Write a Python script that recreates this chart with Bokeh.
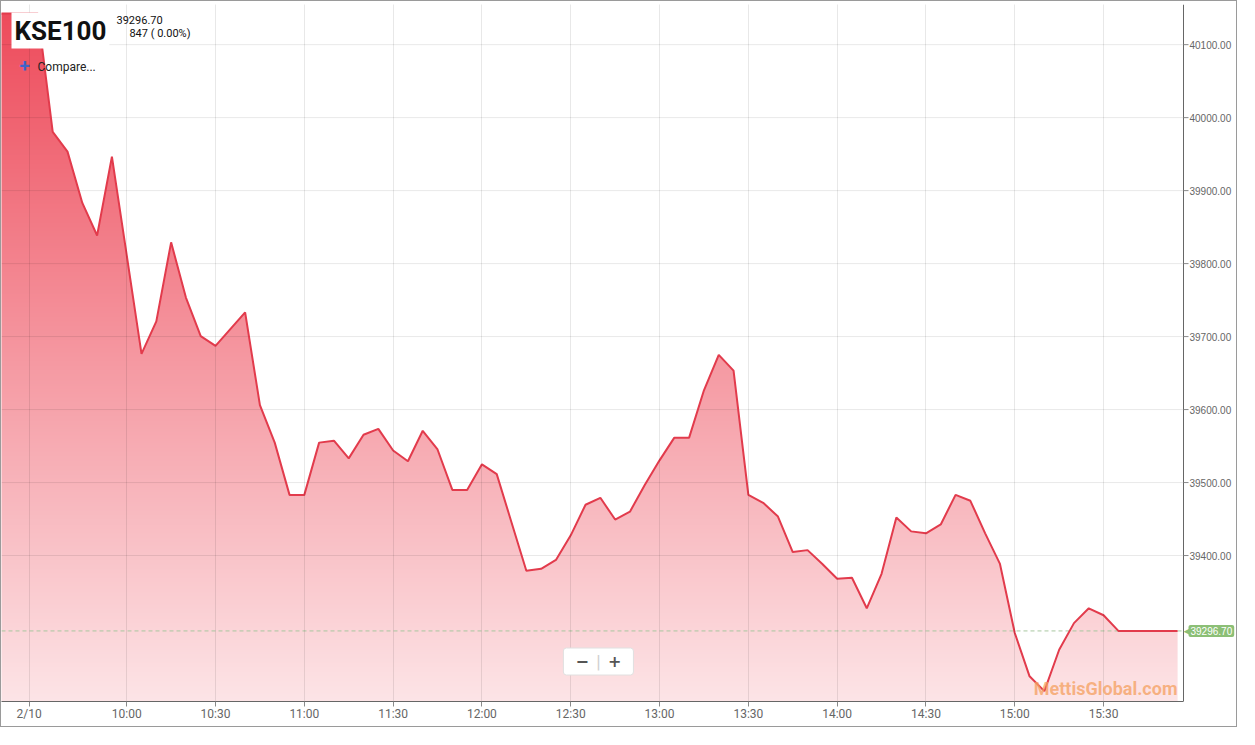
import numpy as np
from bokeh.plotting import figure
from bokeh.models import Range1d, FixedTicker, Label
from bokeh.core.properties import value
from bokeh.embed import file_html
from bokeh.resources import INLINE

# ---- data (KSE100 intraday, 5-minute points) ----
times = ["09:15", "09:20", "09:25", "09:30", "09:35", "09:40", "09:45", "09:50", "09:55",
         "10:00", "10:05", "10:10", "10:15", "10:20", "10:25", "10:30", "10:35", "10:40", "10:45",
         "10:50", "10:55", "11:00", "11:05", "11:10", "11:15", "11:20", "11:25", "11:30", "11:35",
         "11:40", "11:45", "11:50", "11:55", "12:00", "12:05", "12:10", "12:15", "12:20", "12:25",
         "12:30", "12:35", "12:40", "12:45", "12:50", "12:55", "13:00", "13:05", "13:10", "13:15",
         "13:20", "13:25", "13:30", "13:35", "13:40", "13:45", "13:50", "13:55", "14:00", "14:05",
         "14:10", "14:15", "14:20", "14:25", "14:30", "14:35", "14:40", "14:45", "14:50", "14:55",
         "15:00", "15:05", "15:10", "15:15", "15:20", "15:25", "15:30", "15:35", "15:40", "15:45",
         "15:50", "15:55"]
index_values = [40142.6, 40142.6, 40142.6, 40142.6, 39980.4, 39953.4, 39883.1, 39838.5, 39946.6,
                39811.5, 39676.4, 39720.9, 39829.1, 39753.4, 39700.7, 39687.2, 39710.1, 39733.1, 39606.1,
                39554.7, 39483.1, 39483.1, 39554.7, 39557.4, 39533.1, 39565.5, 39573.6, 39543.9, 39529.1,
                39570.9, 39545.3, 39489.9, 39489.9, 39525.0, 39511.5, 39445.3, 39379.1, 39381.8, 39393.9,
                39427.7, 39469.6, 39479.1, 39449.3, 39460.1, 39496.6, 39530.4, 39561.5, 39561.5, 39626.4,
                39675.0, 39653.4, 39483.1, 39472.3, 39453.4, 39404.7, 39407.4, 39388.5, 39368.2, 39369.6,
                39327.7, 39375.0, 39452.0, 39433.1, 39430.4, 39442.6, 39483.1, 39475.0, 39430.4, 39388.5,
                39293.9, 39234.5, 39214.2, 39270.9, 39307.4, 39327.7, 39318.2, 39296.7, 39296.7, 39296.7,
                39296.7, 39296.7]
last_price = 39296.70
x_tick_times = ["09:27", "10:00", "10:30", "11:00", "11:30", "12:00", "12:30", "13:00", "13:30",
                "14:00", "14:30", "15:00", "15:30"]
x_tick_labels = ["2/10", "10:00", "10:30", "11:00", "11:30", "12:00", "12:30", "13:00", "13:30",
                 "14:00", "14:30", "15:00", "15:30"]
y_ticks = [39400, 39500, 39600, 39700, 39800, 39900, 40000, 40100]


def to_min(t):
    h, m = t.split(":")
    return int(h) * 60 + int(m)


mins = [to_min(t) for t in times]
tick_mins = [to_min(t) for t in x_tick_times]

# ---- layout ----
W, H = 1237, 727
MB_TOP, MB_BOTTOM = 3, 27
AXIS_W = 55                      # width of the price-axis strip (px)
FH = H - MB_TOP - MB_BOTTOM
PW = W - AXIS_W                  # plotting area width (px)
X0, XA = 557.7, 957.0            # visible time span (minutes); XA = where price axis sits
PPM = PW / (XA - X0)             # pixels per minute
XE = XA + AXIS_W / PPM
Y0, Y1 = 39200.0, 40155.0

p = figure(width=W, height=H, output_backend="svg", toolbar_location=None,
           x_range=Range1d(X0, XE), y_range=Range1d(Y0, Y1),
           y_axis_location=None, min_border_left=0, min_border_right=0,
           min_border_top=MB_TOP, min_border_bottom=MB_BOTTOM)
p.outline_line_color = None
p.background_fill_color = "white"
p.border_fill_color = "white"
p.styles = {"border": "1px solid #9a9a9a"}
p.ygrid.visible = False

# gradient fill (image) masked above the line
ymax = max(index_values)
n = 512
frac = np.linspace(0.0, 1.0, n)  # 0 bottom -> 1 top
alpha = 0.12 + (0.80 - 0.12) * frac
base = np.array([233, 30, 50], dtype=float)
rgb = 255 - alpha[:, None] * (255 - base[None, :])
img = np.zeros((n, 2), dtype=np.uint32)
view = img.view(dtype=np.uint8).reshape((n, 2, 4))
for c in range(3):
    view[:, :, c] = np.round(rgb[:, c])[:, None].astype(np.uint8)
view[:, :, 3] = 255
p.image_rgba(image=[img], x=mins[0], y=Y0, dw=mins[-1] - mins[0], dh=ymax - Y0)
p.varea(x=mins + [XE], y1=index_values + [index_values[-1]], y2=Y1, fill_color="white")

# horizontal grid lines (stop at the price axis)
p.segment(x0=X0, x1=XA, y0=y_ticks, y1=y_ticks, line_color="#000000", line_alpha=0.09,
          line_width=1)
# last-price dashed line
p.segment(x0=[X0], x1=[XA], y0=[last_price], y1=[last_price], line_color="#a9c7a0",
          line_dash="4 3", line_width=1)

p.line(mins, index_values, line_color="#e23b4c", line_width=2)

# price axis on the right: line, ticks, labels
p.segment(x0=[XA], x1=[XA], y0=[Y0], y1=[Y1], line_color="#666666", line_width=1)
p.segment(x0=XA, x1=XA + 5 / PPM, y0=y_ticks, y1=y_ticks, line_color="#8a8a8a", line_width=1)
p.text(x=[XA] * len(y_ticks), y=y_ticks, text=[f"{v:.2f}" for v in y_ticks], x_offset=6,
       text_font=value("Liberation Sans"), text_font_size="10px", text_color="#666666",
       text_baseline="middle", text_align="left")

# vertical grid
p.xgrid.level = "guide"
p.xgrid.grid_line_color = "#000000"
p.xgrid.grid_line_alpha = 0.09
p.xgrid.ticker = FixedTicker(ticks=tick_mins)

# x axis
xa = p.xaxis[0]
xa.bounds = (X0, XA)
xa.ticker = FixedTicker(ticks=tick_mins)
xa.major_label_overrides = {m: l for m, l in zip(tick_mins, x_tick_labels)}
xa.axis_line_color = "#666666"
xa.major_tick_line_color = "#8a8a8a"
xa.major_tick_out = 5
xa.major_tick_in = 0
xa.minor_tick_line_color = None
xa.major_label_text_font = "Roboto"
xa.major_label_text_font_size = "12px"
xa.major_label_text_color = "#666666"
xa.major_label_standoff = 0

# last price tag
p.add_layout(Label(x=XA, y=last_price, x_offset=5, text="39296.70", text_color="white",
                   text_font="Liberation Sans", text_font_size="10px",
                   background_fill_color="#8cbf76", anchor="center_left",
                   text_baseline="middle", padding=2, border_radius=2))
p.add_layout(Label(x=XA, y=last_price, x_offset=0, text="◀", text_color="#8cbf76",
                   text_font="DejaVu Sans", text_font_size="9px",
                   anchor="center_left", text_baseline="middle"))

# header
p.add_layout(Label(x=10, y=FH - 8, x_units="screen", y_units="screen", text="KSE100",
                   text_font="Roboto", text_font_style="bold",
                   text_font_size="26px", text_color="#111111", anchor="top_left",
                   background_fill_color="white", padding=3))
p.add_layout(Label(x=115, y=FH - 15, x_units="screen", y_units="screen", text="39296.70",
                   text_font="Roboto", text_font_size="11px", text_color="#111111",
                   anchor="center_left", text_baseline="middle"))
p.add_layout(Label(x=189, y=FH - 29, x_units="screen", y_units="screen", text="847 ( 0.00%)",
                   text_font="Roboto", text_font_size="11px", text_color="#111111",
                   anchor="center_right", text_baseline="middle"))
p.add_layout(Label(x=18, y=FH - 61, x_units="screen", y_units="screen", text="+",
                   text_font="Roboto", text_font_style="bold", text_font_size="19px",
                   text_color="#3f63c9", anchor="center_left", text_baseline="middle"))
p.add_layout(Label(x=36, y=FH - 62, x_units="screen", y_units="screen", text="Compare...",
                   text_font="Roboto", text_font_size="12px", text_color="#222222",
                   anchor="center_left", text_baseline="middle"))

# zoom buttons
ZX = PW * 0.505
p.add_layout(Label(x=ZX, y=40, x_units="screen", y_units="screen",
                   text="\u2002\u2212\u2002\u2009\u2002+\u2002",
                   text_font="DejaVu Sans", text_font_style="bold", text_font_size="16px",
                   text_color="#555555", anchor="center", text_align="center",
                   text_baseline="middle", background_fill_color="white",
                   border_line_color="#e0e0e0", padding=4, border_radius=3))
p.add_layout(Label(x=ZX, y=40, x_units="screen", y_units="screen", text="|",
                   text_font="Roboto", text_font_size="18px", text_color="#d0d0d0",
                   anchor="center", text_align="center", text_baseline="middle"))

# watermark
p.add_layout(Label(x=PW - 6, y=3, x_units="screen", y_units="screen", text="MettisGlobal.com",
                   text_font="Roboto", text_font_style="bold", text_font_size="18px",
                   text_color="#f5a060", text_alpha=0.75, anchor="bottom_right"))

open("out.html", "w").write(file_html(p, INLINE))
